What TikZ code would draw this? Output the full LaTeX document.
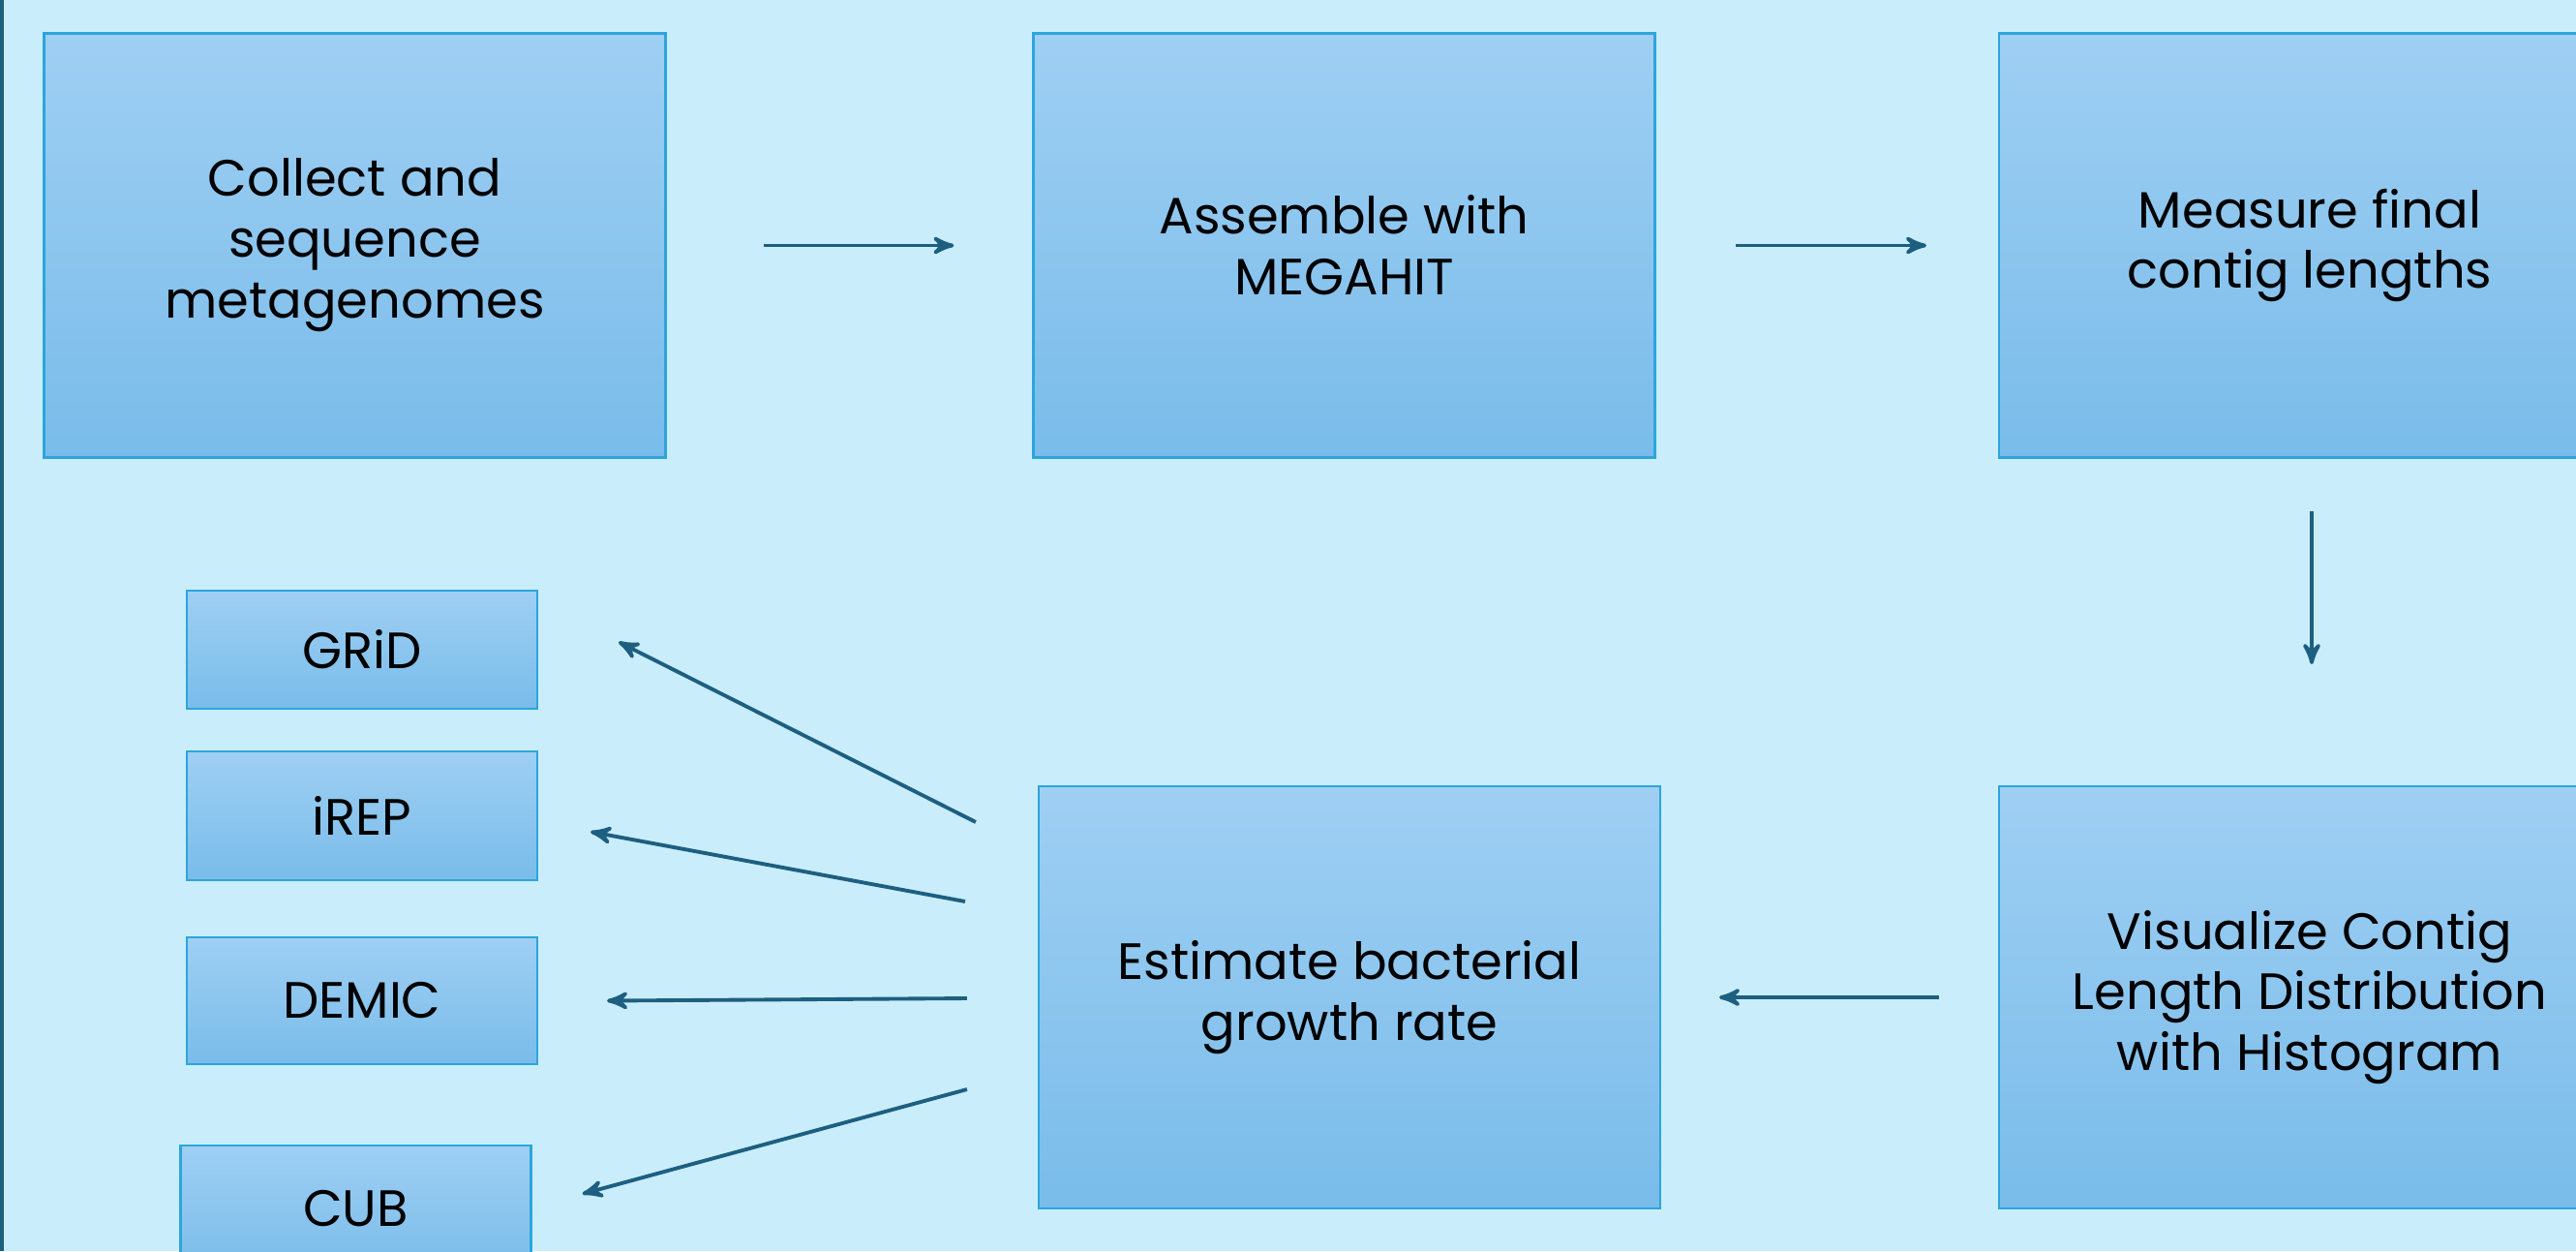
\documentclass[tikz,border=0pt]{standalone}
\usepackage{fontspec}
\setmainfont{Poppins}
\usepackage{tikz}
\usetikzlibrary{arrows,shapes,positioning,calc}

\definecolor{bgblue}{HTML}{CAEDFC}
\definecolor{boxtop}{HTML}{9FCFF3}
\definecolor{boxbot}{HTML}{79BCEA}
\definecolor{boxline}{HTML}{2DA5DB}
\definecolor{flowblue}{HTML}{1D5F80}

\begin{document}
\begin{tikzpicture}[->,>=stealth',auto,
node distance=10cm,
line width=1.1pt]
\tikzstyle{stepbox}=[rectangle, top color=boxtop, bottom color=boxbot, draw=boxline, line width=0.6pt,
 minimum width=6.42cm, minimum height=4.38cm, align=center, text=black, font=\fontsize{15}{17.9}\selectfont]
\tikzstyle{toolbox}=[stepbox, minimum width=3.62cm, minimum height=1.31cm]
\tikzstyle{flow}=[draw=flowblue, line width=1.1pt]

\useasboundingbox (0,0) rectangle (26.61,-12.92);
\clip (0,0) rectangle (26.61,-12.92);
\fill[bgblue] (0,0) rectangle (26.61,-12.92);
\fill[flowblue] (0,0) rectangle (0.035,-12.92);

% top row
\node[stepbox] (collect) at (3.665,-2.535) {Collect and\\ sequence\\ metagenomes};
\node[stepbox] (assemble) [node distance=10.22cm, right of=collect] {Assemble with\\ MEGAHIT};
\node[stepbox] (measure) [node distance=9.975cm, right of=assemble] {Measure final\\ contig lengths};

% bottom row
\node[stepbox, minimum height=4.36cm] (visualize) [node distance=7.765cm, below of=measure] {Visualize Contig\\ Length Distribution\\ with Histogram};
\node[stepbox, minimum height=4.36cm] (estimate) [node distance=9.92cm, left of=visualize] {Estimate bacterial\\ growth rate};

% tools
\node[toolbox, minimum height=1.22cm] (grid) at (3.74,-6.71) {GRiD};
\node[toolbox, minimum height=1.33cm] (irep) [node distance=1.715cm, below of=grid] {iREP};
\node[toolbox] (demic) [node distance=1.91cm, below of=irep] {DEMIC};
\node[toolbox] (cub) [node distance=2.15cm, below of=demic, xshift=-0.065cm] {CUB};

\path (collect) edge[flow, shorten <=1cm, shorten >=0.81cm] (assemble);
\path (assemble) edge[flow, shorten <=0.82cm, shorten >=0.74cm] (measure);
\path ([xshift=0.02cm]measure.south) edge[flow, shorten <=0.54cm, shorten >=1.25cm] ([xshift=0.02cm]visualize.north);
\path (visualize) edge[flow, shorten <=0.61cm, shorten >=0.6cm] (estimate);

%fan out to the tools
\path ([xshift=-0.64cm,yshift=1.81cm]estimate.west) edge[flow] ([xshift=0.83cm,yshift=0.08cm]grid.east);
\path ([xshift=-0.75cm,yshift=0.99cm]estimate.west) edge[flow] ([xshift=0.54cm,yshift=-0.165cm]irep.east);
\path ([xshift=-0.73cm,yshift=-0.01cm]estimate.west) edge[flow] ([xshift=0.71cm]demic.east);
\path ([xshift=-0.73cm,yshift=-0.95cm]estimate.west) edge[flow] ([xshift=0.52cm,yshift=0.155cm]cub.east);

\end{tikzpicture}
\end{document}
